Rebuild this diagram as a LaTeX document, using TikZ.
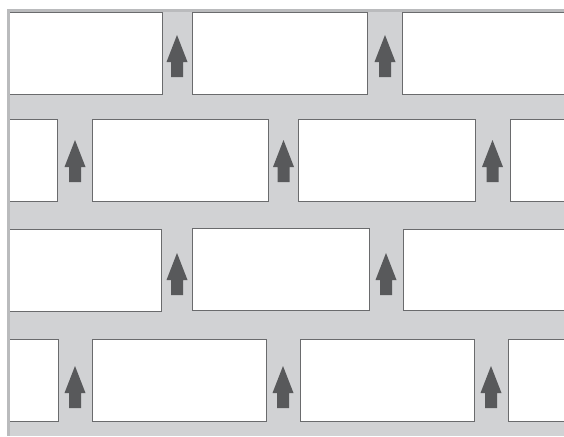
\documentclass[tikz,border=0pt]{standalone}
\begin{document}
\begin{tikzpicture}[x=1pt,y=-1pt,
  brick/.style={fill=white,draw=boxline,line width=0.9pt},
  uparrow/.style={fill=arrowgray,draw=none}]
\definecolor{mortar}{HTML}{D1D2D4}
\definecolor{edgegray}{HTML}{BABBBD}
\definecolor{boxline}{HTML}{6A6B6D}
\definecolor{arrowgray}{HTML}{58595B}
\useasboundingbox (0,0) rectangle (564,436);
% background
\fill[mortar] (7,9) rectangle (564,436);
\fill[edgegray] (7,9) rectangle (564,12);
\newcommand{\uparr}[2]{%
  \fill[uparrow] (#1,#2) -- (#1+10.5,#2+27) -- (#1+6,#2+27) -- (#1+6,#2+42)
    -- (#1-6,#2+42) -- (#1-6,#2+27) -- (#1-10.5,#2+27) -- cycle;}
\begin{scope}
\clip (0,0) rectangle (564,436);
% row 1
\draw[brick] (4,12.5) rectangle (162,94);
\draw[brick] (192.5,12.5) rectangle (367.5,94);
\draw[brick] (402,12.5) rectangle (570,94);
\uparr{177}{35}
\uparr{385}{35}
% row 2
\draw[brick] (4,119.5) rectangle (57.7,201);
\draw[brick] (92.3,119.5) rectangle (268.7,201);
\draw[brick] (298.7,119.5) rectangle (475,201);
\draw[brick] (510,119.5) rectangle (570,201);
\uparr{75}{140}
\uparr{283.5}{140}
\uparr{492.5}{140}
% row 3
\draw[brick] (4,229.5) rectangle (161,311);
\draw[brick] (192.7,228.5) rectangle (369,310);
\draw[brick] (403,229) rectangle (570,310.5);
\uparr{177}{253}
\uparr{386}{253}
% row 4
\draw[brick] (4,339) rectangle (58,421);
\draw[brick] (92,339) rectangle (266,421);
\draw[brick] (300,339) rectangle (474,421);
\draw[brick] (508,339) rectangle (570,421);
\uparr{75}{366}
\uparr{283}{366}
\uparr{491}{366}
\end{scope}
% left edge strip over the bricks
\fill[white] (0,0) rectangle (7,436);
\fill[edgegray] (7,9) rectangle (9.5,436);
\fill[white] (0,0) rectangle (564,9);
\fill[edgegray] (7,9) rectangle (564,12);
\end{tikzpicture}
\end{document}
